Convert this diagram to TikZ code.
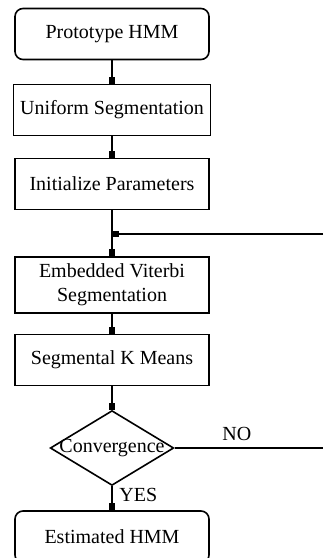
\documentclass[tikz,border=0pt]{standalone}
\usepackage{fontspec}
\setmainfont{Liberation Serif}
\usetikzlibrary{shapes.geometric,arrows.meta}

\begin{document}
\begin{tikzpicture}[x=0.5pt, y=-0.5pt, line width=0.8pt, >={Square[length=3.5pt,width=3pt]},
  stepbox/.style={rectangle, draw, line width=0.8pt, minimum width=97pt, minimum height=25.5pt, align=center, font=\fontsize{10}{12}\selectfont},
  endbox/.style={stepbox, rounded corners=4pt},
  testnode/.style={diamond, draw, line width=0.8pt, aspect=1.65, inner sep=-1pt, font=\fontsize{10}{12}\selectfont},
  lbl/.style={font=\fontsize{10}{12}\selectfont}]
\useasboundingbox (0,0) rectangle (324,558);
\node[endbox] (proto) at (112, 34) {Prototype HMM};
\node[stepbox] (unif) at (112, 110) {Uniform Segmentation};
\node[stepbox] (init) at (112, 184) {Initialize Parameters};
\node[stepbox] (viterbi) at (112, 285) {Embedded Viterbi\\Segmentation};
\node[stepbox] (kmeans) at (112, 360) {Segmental K Means};
\node[testnode] (conv) at (112, 448) {Convergence};
\node[endbox, minimum height=26pt] (est) at (112, 537) {Estimated HMM};
\coordinate (back) at (323, 234);
\coordinate (noend) at (323, 448);
\draw[->] (proto) edge (unif);
\draw[->] (unif) edge (init);
\draw[->] (init) edge (viterbi);
\draw[->] (viterbi) edge (kmeans);
\draw[->] (kmeans) edge (conv);
\draw[->] (conv) edge node[right, lbl, pos=0.35] {YES} (est);
\draw (conv.east) -- node[above, lbl, pos=0.42] {NO} (noend);
\draw[->] (back) -- (init.south |- back);

\end{tikzpicture}
\end{document}
